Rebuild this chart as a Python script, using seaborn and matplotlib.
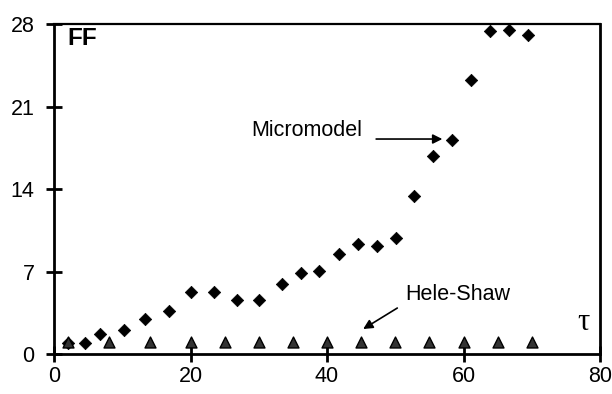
import matplotlib
matplotlib.use("Agg")
import matplotlib.pyplot as plt
import seaborn as sns
import pandas as pd

# Data
micro_tau = [2.0, 4.5, 6.8, 10.2, 13.4, 16.9, 20.1, 23.5, 26.8, 30.1, 33.4, 36.2,
             38.9, 41.7, 44.5, 47.3, 50.1, 52.7, 55.5, 58.3, 61.1, 63.9, 66.7, 69.4]
micro_ff = [0.96, 0.96, 1.67, 2.04, 2.97, 3.68, 5.26, 5.26, 4.58, 4.58, 5.94, 6.84,
            7.04, 8.48, 9.3, 9.19, 9.87, 13.4, 16.8, 18.15, 23.24, 27.4, 27.5, 27.1]
hele_tau = [2, 8, 14, 20, 25, 30, 35, 40, 45, 50, 55, 60, 65, 70]
hele_ff = [1.0, 1.0, 1.0, 1.0, 1.05, 1.05, 1.05, 1.05, 1.05, 1.05, 1.0, 1.05, 1.05, 1.05]
x_ticks = [0, 20, 40, 60, 80]
y_ticks = [0, 7, 14, 21, 28]

sns.set_style("ticks")
plt.rcParams['font.family'] = ['Liberation Sans', 'DejaVu Sans']
plt.rcParams['text.color'] = 'black'
plt.rcParams['xtick.color'] = 'black'
plt.rcParams['ytick.color'] = 'black'
plt.rcParams['xtick.labelcolor'] = 'black'
plt.rcParams['ytick.labelcolor'] = 'black'

micro = pd.DataFrame({"tau": micro_tau, "FF": micro_ff})
hele = pd.DataFrame({"tau": hele_tau, "FF": hele_ff})

fig = plt.figure(figsize=(6.12, 3.94), dpi=100)
ax = fig.add_axes([54/612, 1-354/394, (600-54)/612, (354-24)/394])

sns.scatterplot(data=micro, x="tau", y="FF", marker="D", s=40, color="black",
                edgecolor="black", linewidth=0.5, ax=ax, zorder=3)
sns.scatterplot(data=hele, x="tau", y="FF", marker="^", s=62, color="#333333",
                edgecolor="black", linewidth=1.0, ax=ax, zorder=3)

ax.set_xlim(0, 80)
ax.set_ylim(0, 28)
ax.set_xticks(x_ticks)
ax.set_yticks(y_ticks)
ax.set_xlabel("")
ax.set_ylabel("")
for side in ["left", "bottom", "right", "top"]:
    ax.spines[side].set_visible(True)
    ax.spines[side].set_linewidth(2.0)
    ax.spines[side].set_color("black")
ax.spines["top"].set_linewidth(1.6)
ax.tick_params(axis="both", direction="inout", length=12, width=2.0,
               labelsize=15.5, colors="black", labelcolor="black")
ax.tick_params(axis="x", pad=3)
ax.tick_params(axis="y", pad=8)

ax.text(4.1, 26.8, "FF", fontsize=17.5, fontweight="bold", ha="center", va="center",
        color="black")
ax.text(77.5, 2.7, "τ", fontsize=22, ha="center", va="center", color="black",
        family=["Liberation Serif", "DejaVu Serif"])

ax.annotate("", xy=(56.9, 18.24), xytext=(47.2, 18.24),
            arrowprops=dict(arrowstyle="-|>", color="black", lw=1.2,
                            mutation_scale=14, shrinkA=0, shrinkB=0))
ax.text(37.1, 19.0, "Micromodel", fontsize=15.5, ha="center", va="center", color="black")

ax.annotate("", xy=(45.3, 2.12), xytext=(50.3, 3.9),
            arrowprops=dict(arrowstyle="-|>", color="black", lw=1.2,
                            mutation_scale=14, shrinkA=0, shrinkB=0))
ax.text(59.2, 5.09, "Hele-Shaw", fontsize=15.5, ha="center", va="center", color="black")

fig.savefig("out.png", dpi=100)
